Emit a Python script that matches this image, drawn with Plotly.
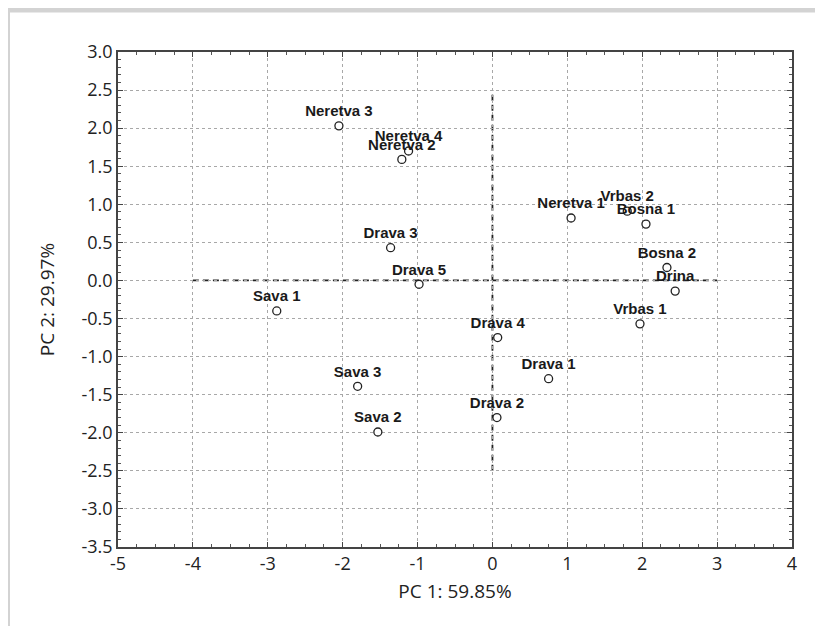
import plotly.graph_objects as go

names = ["Neretva 3", "Neretva 4", "Neretva 2", "Neretva 1", "Vrbas 2", "Bosna 1",
         "Bosna 2", "Drina", "Vrbas 1", "Drava 3", "Drava 5", "Sava 1", "Drava 4",
         "Drava 1", "Sava 3", "Drava 2", "Sava 2"]
pc1 = [-2.05, -1.12, -1.21, 1.05, 1.80, 2.05, 2.33, 2.44, 1.97, -1.36, -0.98,
       -2.88, 0.07, 0.75, -1.80, 0.06, -1.53]
pc2 = [2.03, 1.70, 1.59, 0.82, 0.91, 0.74, 0.17, -0.14, -0.57, 0.43, -0.05,
       -0.40, -0.75, -1.29, -1.39, -1.80, -1.99]

x_ticks = [-5, -4, -3, -2, -1, 0, 1, 2, 3, 4]
y_ticks = [3.0, 2.5, 2.0, 1.5, 1.0, 0.5, 0.0, -0.5, -1.0, -1.5, -2.0, -2.5, -3.0, -3.5]
x_title = "PC 1: 59.85%"
y_title = "PC 2: 29.97%"

# page offset of the figure (default body margin)
OFF = 8
W, H = 823 - OFF, 634 - 2 * OFF
L, R, T, B = 118 - OFF, 792 - OFF, 52 - OFF, 547 - OFF

fig = go.Figure()
fig.add_trace(go.Scatter(
    x=pc1, y=pc2, mode="markers+text", text=names, textposition="top center",
    textfont=dict(family="Liberation Sans, Arial, sans-serif", size=15, color="#1a1a1a",
                  weight="bold"),
    marker=dict(symbol="circle", size=8, color="white", line=dict(color="#222", width=1.3)),
    hoverinfo="text", showlegend=False, cliponaxis=False,
))

# zero reference lines (dashed)
fig.add_shape(type="line", xref="x", yref="y", x0=-4, x1=3, y0=0, y1=0,
              line=dict(color="#222", width=1.8, dash="6px,4px"), layer="below")
fig.add_shape(type="line", xref="x", yref="y", x0=0, x1=0, y0=-2.5, y1=2.5,
              line=dict(color="#222", width=1.8, dash="6px,4px"), layer="below")

# light gray page frame (top and left bands)
def px_x(X):
    return (X - L) / (R - L)

def px_y(Y):
    return (B - Y) / (B - T)

fig.add_shape(type="rect", xref="paper", yref="paper",
              x0=px_x(-2), x1=px_x(W + 5), y0=px_y(4.5), y1=px_y(-2),
              fillcolor="#d3d3d3", line=dict(width=0), layer="below")
fig.add_shape(type="rect", xref="paper", yref="paper",
              x0=px_x(-2), x1=px_x(2), y0=px_y(H + 5), y1=px_y(-2),
              fillcolor="#d3d3d3", line=dict(width=0), layer="below")

tickfont = dict(family="Open Sans, Noto Sans, sans-serif", size=18, color="#222")
titlefont = dict(family="Open Sans, Noto Sans, sans-serif", size=19, color="#222")

fig.update_xaxes(
    range=[-5, 4], tickvals=x_ticks, ticktext=[str(v) for v in x_ticks],
    showgrid=True, gridcolor="#a8a8a8", griddash="dot", gridwidth=1,
    zeroline=False, showline=True, linecolor="#444", linewidth=1.5, mirror="allticks",
    ticks="inside", ticklen=5, tickcolor="#444",
    minor=dict(ticks="inside", dtick=0.25, ticklen=3, tickcolor="#555", showgrid=False),
    tickfont=tickfont,
    title=dict(text=x_title, font=titlefont, standoff=10),
)
fig.update_yaxes(
    range=[-3.5, 3.0], tickvals=y_ticks, ticktext=["%.1f" % v for v in y_ticks],
    showgrid=True, gridcolor="#a8a8a8", griddash="dot", gridwidth=1,
    zeroline=False, showline=True, linecolor="#444", linewidth=1.5, mirror="allticks",
    ticks="inside", ticklen=5, tickcolor="#444",
    minor=dict(ticks="inside", dtick=0.1, ticklen=3, tickcolor="#555", showgrid=False),
    tickfont=tickfont,
    title=dict(text=y_title, font=titlefont, standoff=22),
)

fig.update_layout(
    width=W, height=H,
    margin=dict(l=L, r=W - R, t=T, b=H - B, pad=0),
    paper_bgcolor="white", plot_bgcolor="white",
)

fig.write_html("out.html")
